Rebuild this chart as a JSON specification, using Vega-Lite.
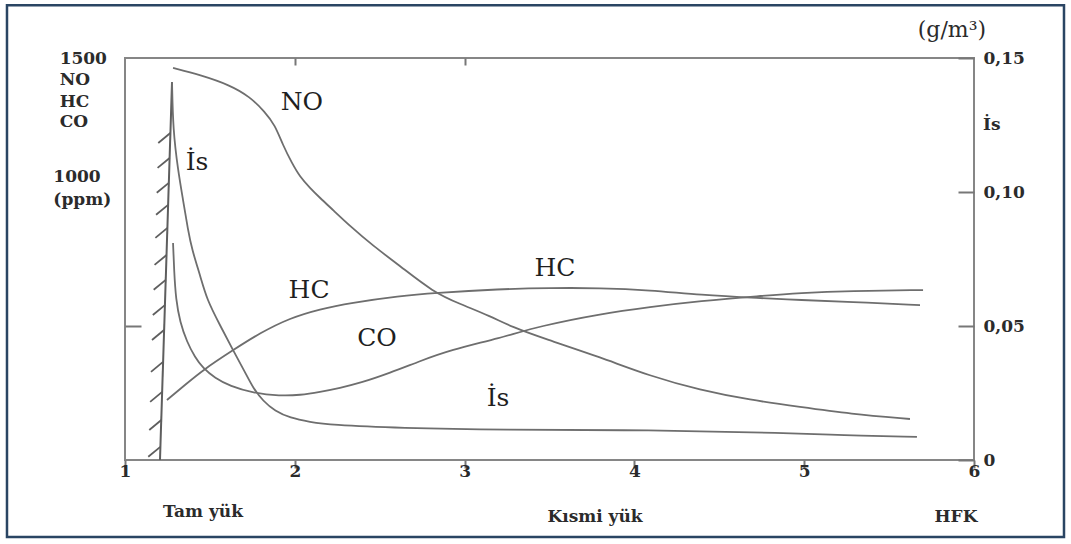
{
  "$schema": "https://vega.github.io/schema/vega-lite/v6.json",
  "width": 849,
  "height": 402,
  "autosize": {"type": "none"},
  "padding": {"left": 125, "top": 58, "right": 97, "bottom": 84},
  "background": "white",
  "config": {
    "view": {"stroke": "#868686", "strokeWidth": 2},
    "font": "DejaVu Serif",
    "axis": {"grid": false, "domain": false, "title": null}
  },
  "datasets": {
    "curves": [
      {"series": "NO", "x": 1.283, "v": 1463}, {"series": "NO", "x": 1.442, "v": 1437}, {"series": "NO", "x": 1.618, "v": 1399},
      {"series": "NO", "x": 1.736, "v": 1355}, {"series": "NO", "x": 1.824, "v": 1299}, {"series": "NO", "x": 1.883, "v": 1250},
      {"series": "NO", "x": 1.930, "v": 1175}, {"series": "NO", "x": 1.983, "v": 1108}, {"series": "NO", "x": 2.031, "v": 1056},
      {"series": "NO", "x": 2.090, "v": 1015}, {"series": "NO", "x": 2.148, "v": 978}, {"series": "NO", "x": 2.225, "v": 933},
      {"series": "NO", "x": 2.325, "v": 873}, {"series": "NO", "x": 2.461, "v": 799}, {"series": "NO", "x": 2.620, "v": 724},
      {"series": "NO", "x": 2.814, "v": 627}, {"series": "NO", "x": 2.973, "v": 582}, {"series": "NO", "x": 3.150, "v": 537},
      {"series": "NO", "x": 3.279, "v": 496}, {"series": "NO", "x": 3.473, "v": 452}, {"series": "NO", "x": 3.797, "v": 384},
      {"series": "NO", "x": 4.092, "v": 313}, {"series": "NO", "x": 4.386, "v": 261}, {"series": "NO", "x": 4.681, "v": 224},
      {"series": "NO", "x": 4.975, "v": 198}, {"series": "NO", "x": 5.270, "v": 172}, {"series": "NO", "x": 5.623, "v": 153},
      {"series": "HC", "x": 1.247, "v": 224}, {"series": "HC", "x": 1.353, "v": 280}, {"series": "HC", "x": 1.459, "v": 336},
      {"series": "HC", "x": 1.636, "v": 410}, {"series": "HC", "x": 1.795, "v": 474}, {"series": "HC", "x": 1.972, "v": 530},
      {"series": "HC", "x": 2.148, "v": 563}, {"series": "HC", "x": 2.325, "v": 586}, {"series": "HC", "x": 2.620, "v": 612},
      {"series": "HC", "x": 2.814, "v": 623}, {"series": "HC", "x": 3.208, "v": 638}, {"series": "HC", "x": 3.503, "v": 642},
      {"series": "HC", "x": 3.797, "v": 642}, {"series": "HC", "x": 4.092, "v": 634}, {"series": "HC", "x": 4.386, "v": 616},
      {"series": "HC", "x": 4.740, "v": 604}, {"series": "HC", "x": 4.975, "v": 597}, {"series": "HC", "x": 5.270, "v": 590},
      {"series": "HC", "x": 5.682, "v": 578},
      {"series": "CO", "x": 1.283, "v": 810}, {"series": "CO", "x": 1.289, "v": 709}, {"series": "CO", "x": 1.300, "v": 597},
      {"series": "CO", "x": 1.324, "v": 515}, {"series": "CO", "x": 1.365, "v": 440}, {"series": "CO", "x": 1.412, "v": 384},
      {"series": "CO", "x": 1.459, "v": 343}, {"series": "CO", "x": 1.530, "v": 306}, {"series": "CO", "x": 1.618, "v": 276},
      {"series": "CO", "x": 1.754, "v": 250}, {"series": "CO", "x": 1.913, "v": 239}, {"series": "CO", "x": 2.031, "v": 242},
      {"series": "CO", "x": 2.148, "v": 254}, {"series": "CO", "x": 2.266, "v": 269}, {"series": "CO", "x": 2.384, "v": 287},
      {"series": "CO", "x": 2.561, "v": 325}, {"series": "CO", "x": 2.737, "v": 369}, {"series": "CO", "x": 2.914, "v": 410},
      {"series": "CO", "x": 3.208, "v": 455}, {"series": "CO", "x": 3.444, "v": 500}, {"series": "CO", "x": 3.797, "v": 545},
      {"series": "CO", "x": 4.092, "v": 571}, {"series": "CO", "x": 4.386, "v": 593}, {"series": "CO", "x": 4.740, "v": 612},
      {"series": "CO", "x": 4.975, "v": 623}, {"series": "CO", "x": 5.270, "v": 631}, {"series": "CO", "x": 5.700, "v": 634}
    ],
    "smoke": [
      {"x": 1.277, "v": 0.1410}, {"x": 1.283, "v": 0.1231}, {"x": 1.312, "v": 0.1082}, {"x": 1.342, "v": 0.0970},
      {"x": 1.371, "v": 0.0858}, {"x": 1.395, "v": 0.0784}, {"x": 1.442, "v": 0.0690}, {"x": 1.483, "v": 0.0597},
      {"x": 1.559, "v": 0.0504}, {"x": 1.636, "v": 0.0410}, {"x": 1.707, "v": 0.0328}, {"x": 1.754, "v": 0.0269},
      {"x": 1.813, "v": 0.0220}, {"x": 1.883, "v": 0.0183}, {"x": 1.972, "v": 0.0157}, {"x": 2.090, "v": 0.0142},
      {"x": 2.207, "v": 0.0131}, {"x": 2.620, "v": 0.0119}, {"x": 3.208, "v": 0.0112}, {"x": 4.092, "v": 0.0112},
      {"x": 4.916, "v": 0.0101}, {"x": 5.211, "v": 0.0093}, {"x": 5.664, "v": 0.0086}
    ],
    "limit": [{"x": 1.277, "x2": 1.206, "y": 1410, "y2": 0}],
    "hatch": [
      {"x": 1.267, "x2": 1.196, "y": 1220, "y2": 1183}, {"x": 1.263, "x2": 1.192, "y": 1127, "y2": 1090},
      {"x": 1.258, "x2": 1.187, "y": 1034, "y2": 997}, {"x": 1.254, "x2": 1.183, "y": 952, "y2": 915},
      {"x": 1.250, "x2": 1.179, "y": 866, "y2": 829}, {"x": 1.245, "x2": 1.174, "y": 765, "y2": 728},
      {"x": 1.240, "x2": 1.169, "y": 672, "y2": 635}, {"x": 1.235, "x2": 1.164, "y": 578, "y2": 541},
      {"x": 1.230, "x2": 1.159, "y": 485, "y2": 448}, {"x": 1.224, "x2": 1.153, "y": 366, "y2": 329},
      {"x": 1.219, "x2": 1.148, "y": 254, "y2": 217}, {"x": 1.214, "x2": 1.143, "y": 149, "y2": 112},
      {"x": 1.208, "x2": 1.137, "y": 49, "y2": 12}
    ],
    "frame": [{"x": 0.305, "x2": 6.530, "y": 1697, "y2": -287}],
    "plotLabels": [
      {"text": "NO", "x": 2.042, "y": 1336},
      {"text": "İs", "x": 1.424, "y": 1112},
      {"text": "HC", "x": 2.084, "y": 634},
      {"text": "CO", "x": 2.484, "y": 455},
      {"text": "HC", "x": 3.532, "y": 716},
      {"text": "İs", "x": 3.197, "y": 231}
    ],
    "sideLabels": [
      {"text": "1500", "x": 0.615, "y": 1496},
      {"text": "NO", "x": 0.615, "y": 1418},
      {"text": "HC", "x": 0.615, "y": 1336},
      {"text": "CO", "x": 0.615, "y": 1261},
      {"text": "1000", "x": 0.578, "y": 1056},
      {"text": "(ppm)", "x": 0.578, "y": 970},
      {"text": "İs", "x": 6.053, "y": 1250}
    ],
    "bottomLabels": [
      {"text": "Tam yük", "x": 1.459, "y": -194},
      {"text": "Kısmi yük", "x": 3.768, "y": -213},
      {"text": "HFK", "x": 5.894, "y": -213}
    ],
    "unitLabel": [{"text": "(g/m³)", "x": 5.870, "y": 1604}]
  },
  "layer": [
    {
      "layer": [
        {
          "data": {"name": "frame"},
          "mark": {"type": "rect", "fill": null, "fillOpacity": 0, "stroke": "#2a4563", "strokeWidth": 2.5},
          "encoding": {
            "x": {"field": "x", "type": "quantitative", "title": null, "scale": {"domain": [1, 6], "nice": false, "zero": false}},
            "x2": {"field": "x2"},
            "y": {"field": "y", "type": "quantitative", "title": null, "scale": {"domain": [0, 1500], "nice": false, "zero": false}},
            "y2": {"field": "y2"}
          }
        },
        {
          "data": {"name": "curves"},
          "mark": {"type": "line", "interpolate": "basis", "color": "#6e6e6e", "strokeWidth": 1.8},
          "encoding": {
            "x": {"field": "x", "type": "quantitative", "title": null,
                  "scale": {"domain": [1, 6], "nice": false, "zero": false},
                  "axis": {"orient": "bottom", "values": [1, 2, 3, 4, 5, 6], "tickSize": 8, "tickWidth": 2, "tickColor": "#777777",
                           "labelPadding": -5, "labelFlush": false, "labelFont": "DejaVu Serif", "labelFontWeight": "bold",
                           "labelFontSize": 17, "labelColor": "#2b2b2b", "format": "d"}},
            "y": {"field": "v", "type": "quantitative", "title": null,
                  "scale": {"domain": [0, 1500], "nice": false, "zero": false},
                  "axis": {"orient": "left", "values": [500], "labels": false, "tickSize": -16, "tickWidth": 2, "tickColor": "#777777"}},
            "detail": {"field": "series"}
          }
        },
        {
          "data": {"name": "limit"},
          "mark": {"type": "rule", "color": "#5e5e5e", "strokeWidth": 2},
          "encoding": {
            "x": {"field": "x", "type": "quantitative", "title": null, "scale": {"domain": [1, 6], "nice": false, "zero": false}},
            "x2": {"field": "x2"},
            "y": {"field": "y", "type": "quantitative", "title": null, "scale": {"domain": [0, 1500], "nice": false, "zero": false}},
            "y2": {"field": "y2"}
          }
        },
        {
          "data": {"name": "hatch"},
          "mark": {"type": "rule", "color": "#5e5e5e", "strokeWidth": 1.8},
          "encoding": {
            "x": {"field": "x", "type": "quantitative", "title": null, "scale": {"domain": [1, 6], "nice": false, "zero": false}},
            "x2": {"field": "x2"},
            "y": {"field": "y", "type": "quantitative", "title": null, "scale": {"domain": [0, 1500], "nice": false, "zero": false}},
            "y2": {"field": "y2"}
          }
        },
        {
          "data": {"name": "plotLabels"},
          "mark": {"type": "text", "font": "DejaVu Serif", "fontSize": 25, "color": "#1f1f1f", "align": "center", "baseline": "middle"},
          "encoding": {
            "x": {"field": "x", "type": "quantitative", "title": null, "scale": {"domain": [1, 6], "nice": false, "zero": false}},
            "y": {"field": "y", "type": "quantitative", "title": null, "scale": {"domain": [0, 1500], "nice": false, "zero": false}},
            "text": {"field": "text"}
          }
        },
        {
          "data": {"name": "sideLabels"},
          "mark": {"type": "text", "font": "DejaVu Serif", "fontWeight": "bold", "fontSize": 17, "color": "#2b2b2b", "align": "left", "baseline": "middle"},
          "encoding": {
            "x": {"field": "x", "type": "quantitative", "title": null, "scale": {"domain": [1, 6], "nice": false, "zero": false}},
            "y": {"field": "y", "type": "quantitative", "title": null, "scale": {"domain": [0, 1500], "nice": false, "zero": false}},
            "text": {"field": "text"}
          }
        },
        {
          "data": {"name": "bottomLabels"},
          "mark": {"type": "text", "font": "DejaVu Serif", "fontWeight": "bold", "fontSize": 17, "color": "#2b2b2b", "align": "center", "baseline": "middle"},
          "encoding": {
            "x": {"field": "x", "type": "quantitative", "title": null, "scale": {"domain": [1, 6], "nice": false, "zero": false}},
            "y": {"field": "y", "type": "quantitative", "title": null, "scale": {"domain": [0, 1500], "nice": false, "zero": false}},
            "text": {"field": "text"}
          }
        },
        {
          "data": {"name": "unitLabel"},
          "mark": {"type": "text", "font": "DejaVu Serif", "fontSize": 22, "color": "#2b2b2b", "align": "center", "baseline": "middle"},
          "encoding": {
            "x": {"field": "x", "type": "quantitative", "title": null, "scale": {"domain": [1, 6], "nice": false, "zero": false}},
            "y": {"field": "y", "type": "quantitative", "title": null, "scale": {"domain": [0, 1500], "nice": false, "zero": false}},
            "text": {"field": "text"}
          }
        }
      ]
    },
    {
      "data": {"name": "smoke"},
      "mark": {"type": "line", "interpolate": "basis", "color": "#6e6e6e", "strokeWidth": 1.8},
      "encoding": {
        "x": {"field": "x", "type": "quantitative", "title": null,
              "scale": {"domain": [1, 6], "nice": false, "zero": false},
              "axis": {"orient": "top", "values": [2, 3], "labels": false, "tickSize": -7, "tickWidth": 2, "tickColor": "#777777"}},
        "y": {"field": "v", "type": "quantitative", "title": null,
              "scale": {"domain": [0, 0.15], "nice": false, "zero": false},
              "axis": {"orient": "right", "values": [0, 0.05, 0.1, 0.15], "tickSize": -16, "tickWidth": 2, "tickColor": "#777777",
                       "labelPadding": 25, "labelFont": "DejaVu Serif", "labelFontWeight": "bold", "labelFontSize": 17,
                       "labelColor": "#2b2b2b",
                       "labelExpr": "datum.value == 0 ? '0' : replace(format(datum.value, '.2f'), '.', ',')"}}
      }
    }
  ],
  "resolve": {"scale": {"y": "independent"}, "axis": {"x": "independent"}}
}
